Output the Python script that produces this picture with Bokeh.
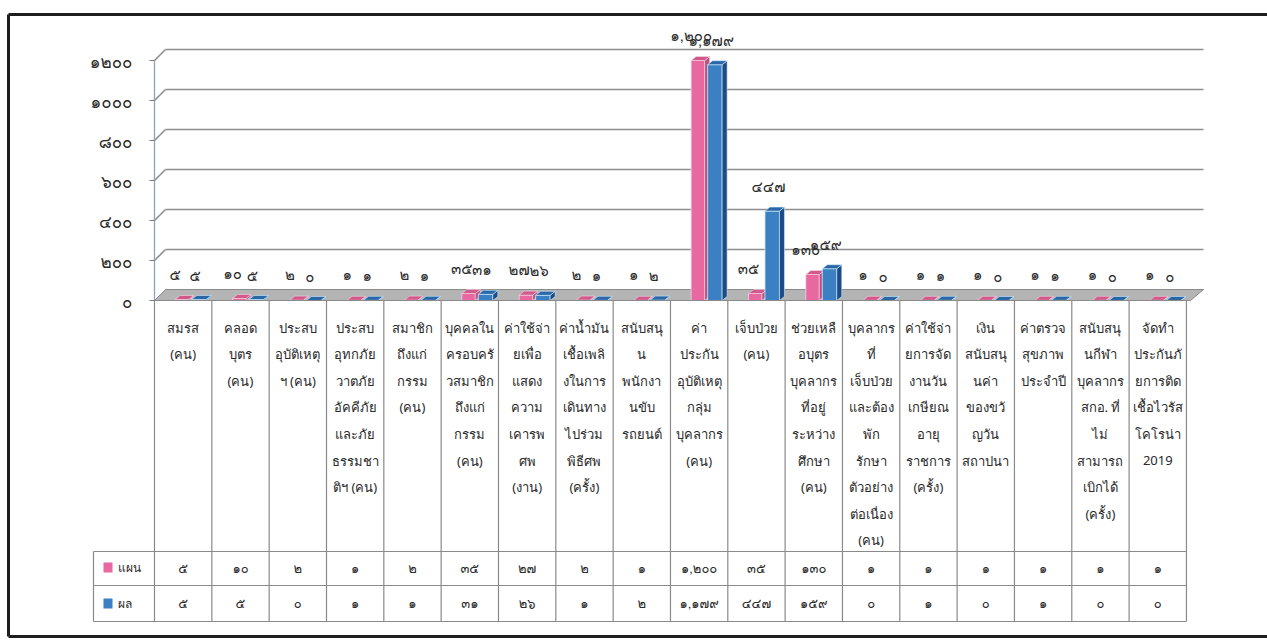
from bokeh.plotting import figure
from bokeh.models import Range1d
from bokeh.core.properties import value
from bokeh.embed import file_html
from bokeh.resources import INLINE

# ---------------- data ----------------
categories = [
    "สมรส\n(คน)",
    "คลอด\nบุตร\n(คน)",
    "ประสบ\nอุบัติเหตุ\nฯ (คน)",
    "ประสบ\nอุทกภัย\nวาตภัย\nอัคคีภัย\nและภัย\nธรรมชา\nติฯ (คน)",
    "สมาชิก\nถึงแก่\nกรรม\n(คน)",
    "บุคคลใน\nครอบครั\nวสมาชิก\nถึงแก่\nกรรม\n(คน)",
    "ค่าใช้จ่า\nยเพื่อ\nแสดง\nความ\nเคารพ\nศพ\n(งาน)",
    "ค่าน้ำมัน\nเชื้อเพลิ\nงในการ\nเดินทาง\nไปร่วม\nพิธีศพ\n(ครั้ง)",
    "สนับสนุ\nน\nพนักงา\nนขับ\nรถยนต์",
    "ค่า\nประกัน\nอุบัติเหตุ\nกลุ่ม\nบุคลากร\n(คน)",
    "เจ็บป่วย\n(คน)",
    "ช่วยเหลื\nอบุตร\nบุคลากร\nที่อยู่\nระหว่าง\nศึกษา\n(คน)",
    "บุคลากร\nที่\nเจ็บป่วย\nและต้อง\nพัก\nรักษา\nตัวอย่าง\nต่อเนื่อง\n(คน)",
    "ค่าใช้จ่า\nยการจัด\nงานวัน\nเกษียณ\nอายุ\nราชการ\n(ครั้ง)",
    "เงิน\nสนับสนุ\nนค่า\nของขวั\nญวัน\nสถาปนา",
    "ค่าตรวจ\nสุขภาพ\nประจำปี",
    "สนับสนุ\nนกีฬา\nบุคลากร\nสกอ. ที่\nไม่\nสามารถ\nเบิกได้\n(ครั้ง)",
    "จัดทำ\nประกันภั\nยการติด\nเชื้อไวรัส\nโคโรน่า\n2019",
]
plan = [5, 10, 2, 1, 2, 35, 27, 2, 1, 1200, 35, 130, 1, 1, 1, 1, 1, 1]
actual = [5, 5, 0, 1, 1, 31, 26, 1, 2, 1179, 447, 159, 0, 1, 0, 1, 0, 0]
series_names = ["แผน", "ผล"]
y_ticks = [0, 200, 400, 600, 800, 1000, 1200]

THAI = str.maketrans("0123456789", "๐๑๒๓๔๕๖๗๘๙")


def thai_num(v, comma=True):
    s = f"{v:,}" if comma else str(v)
    return s.translate(THAI)


# ---------------- layout helpers (pixel -> data) ----------------
W, H = 1267, 640
AX_PX = 154.0      # x pixel of the value axis / left table edge
COL_PX = 57.33     # table column width in pixels
Y0_PX = 300.0      # pixel row of value 0
PPU = 0.2          # pixels per value unit


def X(px):
    return (px - AX_PX) / COL_PX - 0.5


def Y(py):
    return (Y0_PX - py) / PPU


def DX(px):
    return px / COL_PX


def DY(px):
    return px / PPU


n = len(categories)
idx = list(range(n))

FONT = value("Noto Sans")
NUMFONT = value("Garuda, Loma, Norasi, Noto Sans Thai, Noto Sans")
TXT = "#2a2a2a"

p = figure(width=W, height=H, x_range=Range1d(X(0), X(W)), y_range=Range1d(Y(H), Y(0)),
           x_axis_type=None, y_axis_type=None, toolbar_location=None,
           output_backend="svg", min_border=0, outline_line_color=None,
           background_fill_color="white", border_fill_color="white")
p.grid.visible = False

# ---------------- 3D walls / floor ----------------
back_dx, back_dy = DX(11), DY(11)
right_end = X(1203)
gx0, gy0, gx1, gy1 = [], [], [], []
for t in y_ticks[1:]:
    gx0 += [X(AX_PX), X(AX_PX) + back_dx]
    gy0 += [t, t + back_dy]
    gx1 += [X(AX_PX) + back_dx, right_end]
    gy1 += [t + back_dy, t + back_dy]
p.segment(gx0, gy0, gx1, gy1, line_color="#8e8e8e", line_width=1.6)

# floor
p.patch([X(AX_PX), X(AX_PX) + back_dx, right_end, X(1190)],
        [0, back_dy, back_dy, 0], fill_color="#b4b4b4", line_color="#8a8a8a", line_width=1)

# value axis line + ticks
p.segment([X(AX_PX)], [0], [X(AX_PX)], [y_ticks[-1]], line_color="#8da2b8", line_width=1.3)
p.segment([X(149)] * len(y_ticks), y_ticks, [X(AX_PX)] * len(y_ticks), y_ticks,
          line_color="#777777", line_width=1)
p.text(x=[X(132)] * len(y_ticks), y=y_ticks, text=[thai_num(t, comma=False) for t in y_ticks],
       text_align="right", text_baseline="middle", text_font=NUMFONT, text_font_size="17px",
       text_color=TXT, y_offset=1)

# ---------------- 3D bars ----------------
bar_d, bar_dy = DX(5), DY(4)


def draw_bars(vals, l_px, r_px, front, side, top, edge):
    left = [i + DX(l_px) for i in idx]
    right = [i + DX(r_px) for i in idx]
    p.quad(left=left, right=right, bottom=[0] * n, top=vals, fill_color=front,
           line_color=edge, line_width=0.8)
    p.patches(xs=[[r, r + bar_d, r + bar_d, r] for r in right],
              ys=[[0, bar_dy, v + bar_dy, v] for v in vals],
              fill_color=side, line_color=edge, line_width=0.6)
    p.patches(xs=[[l, l + bar_d, r + bar_d, r] for l, r in zip(left, right)],
              ys=[[v, v + bar_dy, v + bar_dy, v] for v in vals],
              fill_color=top, line_color=edge, line_width=0.6)


PINK, BLUE = "#e8699f", "#3a80c3"
draw_bars(plan, -8, 5.5, PINK, "#c04f80", "#cf5a8b", "#f6d6e4")
draw_bars(actual, 8.5, 23, BLUE, "#1d4b85", "#2b67a6", "#cfeeff")

# data labels
p.text(x=idx, y=plan, text=[thai_num(v) for v in plan], x_offset=-8, y_offset=-25,
       text_align="center", text_baseline="middle", text_font=NUMFONT, text_font_size="15px",
       text_color=TXT)
p.text(x=idx, y=actual, text=[thai_num(v) for v in actual], x_offset=12, y_offset=-24,
       text_align="center", text_baseline="middle", text_font=NUMFONT, text_font_size="15px",
       text_color=TXT)

# ---------------- data table ----------------
TOP, HB, RS, BOT = Y(300), Y(551), Y(585), Y(621)
LEG_L = X(93)
vx = [k - 0.5 for k in range(n + 1)]
p.segment(vx, [TOP] * len(vx), vx, [BOT] * len(vx), line_color="#8a8a8a", line_width=1.2)
p.segment([LEG_L], [HB], [LEG_L], [BOT], line_color="#8a8a8a", line_width=1.2)
p.segment([LEG_L] * 3 + [-0.5], [HB, RS, BOT, TOP], [n - 0.5] * 4, [HB, RS, BOT, TOP],
          line_color="#8a8a8a", line_width=1.2)

hx, hy, ht = [], [], []
for i, cat in enumerate(categories):
    for j, line in enumerate(cat.split("\n")):
        hx.append(i)
        hy.append(Y(327 + 26.6 * j))
        ht.append(line)
p.text(x=hx, y=hy, text=ht, text_align="center", text_baseline="middle", text_font=FONT,
       text_font_size="13px", text_color=TXT)

p.text(x=idx, y=[Y(568)] * n, text=[thai_num(v) for v in plan], text_align="center",
       text_baseline="middle", text_font=NUMFONT, text_font_size="13px", text_color=TXT)
p.text(x=idx, y=[Y(603)] * n, text=[thai_num(v) for v in actual], text_align="center",
       text_baseline="middle", text_font=NUMFONT, text_font_size="13px", text_color=TXT)

# legend keys in the table
p.quad(left=[X(103)] * 2, right=[X(112)] * 2, top=[Y(562), Y(598)], bottom=[Y(572), Y(608)],
       fill_color=[PINK, BLUE], line_color=None)
p.text(x=[X(117)] * 2, y=[Y(567), Y(603)], text=series_names, text_align="left",
       text_baseline="middle", text_font=FONT, text_font_size="12px", text_color=TXT)

# ---------------- scanned page frame ----------------
p.segment([X(8), X(8), X(8)], [Y(14), Y(14), Y(636)], [X(W), X(8), X(W)], [Y(14), Y(636), Y(636)],
          line_color="#1e1e1e", line_width=3)

open("out.html", "w").write(file_html(p, INLINE))
